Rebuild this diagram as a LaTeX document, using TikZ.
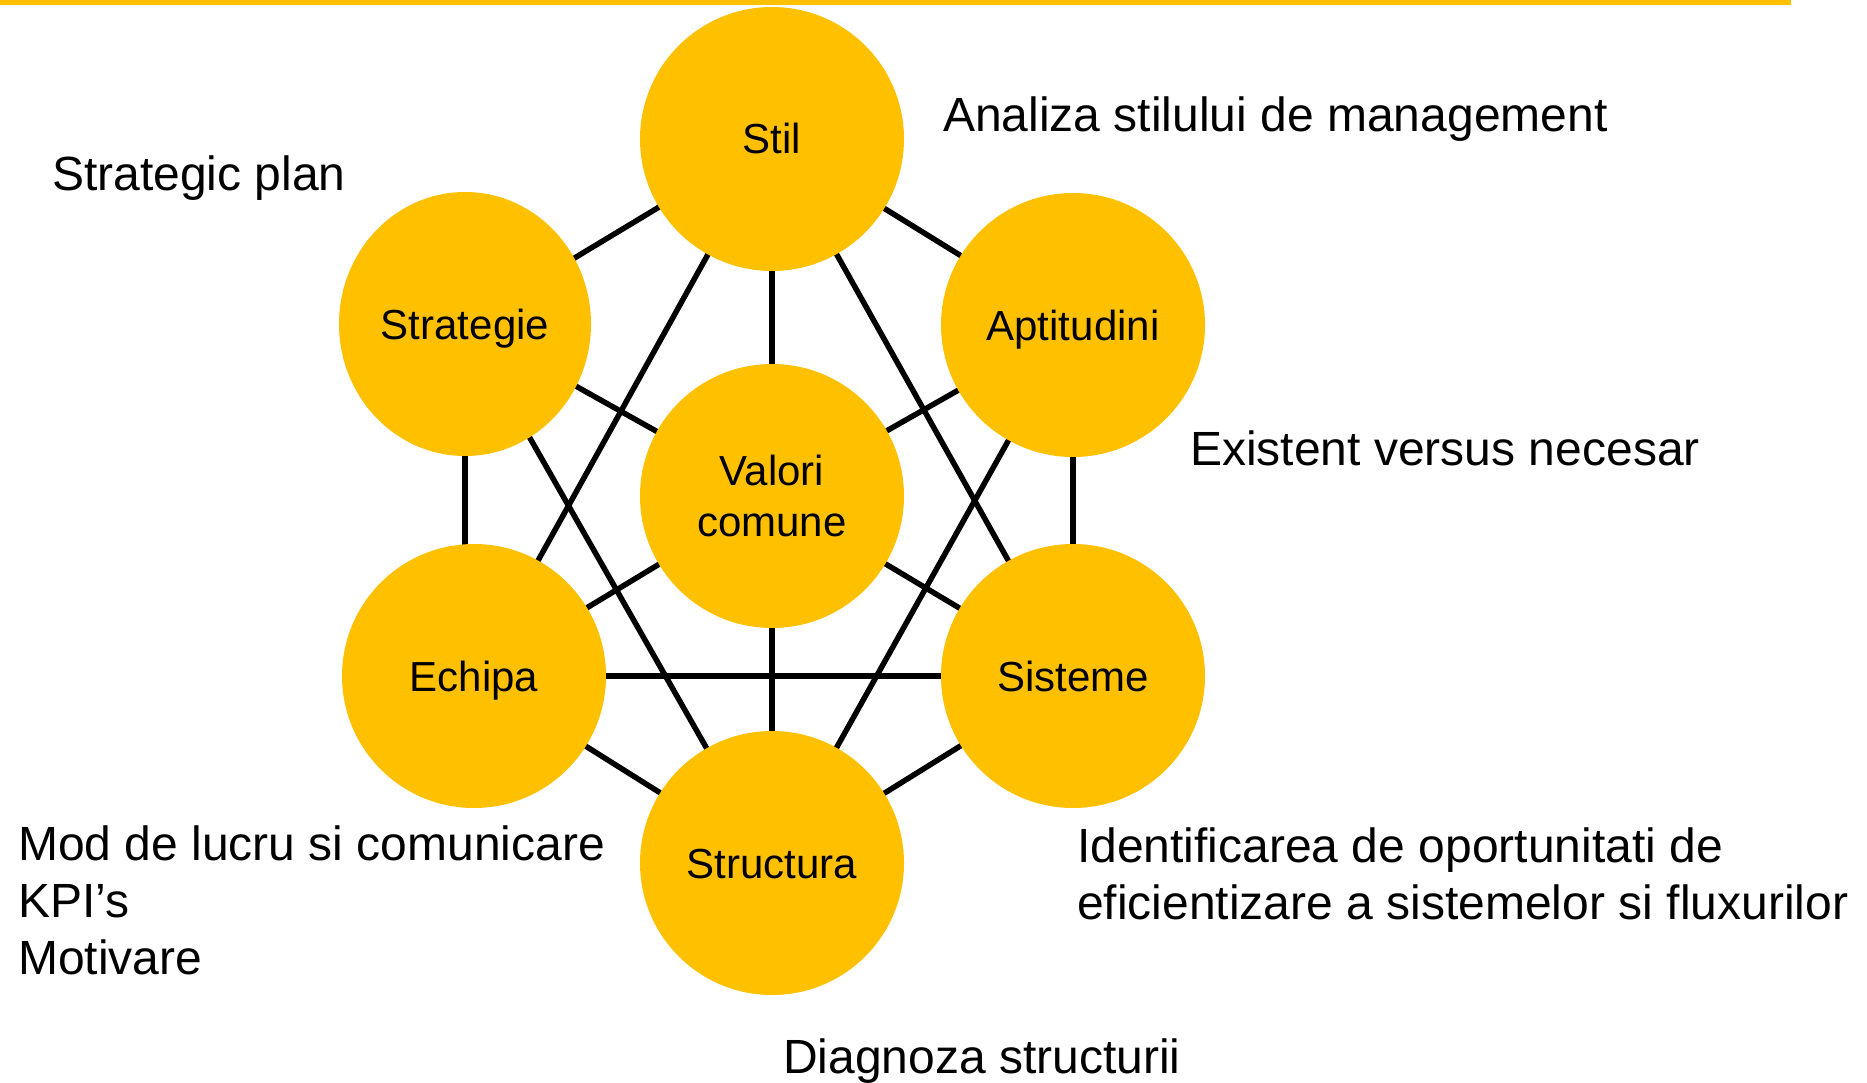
\documentclass[tikz,border=0pt]{standalone}
\usepackage{fontspec}
\setmainfont{Liberation Sans}
\usetikzlibrary{shapes.geometric,backgrounds}
\definecolor{gold}{HTML}{FFC000}
\begin{document}
\begin{tikzpicture}[x=1pt,y=-1pt,
  ball/.style={ellipse, fill=gold, minimum width=264pt, minimum height=264pt, inner sep=0pt, font=\fontsize{42}{51}\selectfont},
  one/.style={text height=30pt, text depth=0pt},
  link/.style={line width=5.5pt, draw=black},
  note/.style={anchor=base west, inner sep=0pt, font=\fontsize{48}{57}\selectfont}]
\useasboundingbox (0,0) rectangle (1867,1083);
\fill[gold] (0,0) rectangle (1791,5);

\node[ball,one] (stil) at (772,139) {Stil};
\node[ball,one,minimum width=252pt] (strat) at (465,324) {Strategie};
\node[ball,one] (apt) at (1073,325) {Aptitudini};
\node[ball,align=center] (val) at (772,496) {Valori\\comune};
\node[ball,one] (ech) at (474,676) {Echipa};
\node[ball,one] (sis) at (1073,676) {Sisteme};
\node[ball,one] (str) at (772,863) {Structura};

\begin{scope}[on background layer]
\draw[link] (stil.center) -- (strat.center);
\draw[link] (stil.center) -- (apt.center);
\draw[link] (stil.center) -- (val.center);
\draw[link] (stil.center) -- (ech.center);
\draw[link] (stil.center) -- (sis.center);
\draw[link] (strat.center) -- (val.center);
\draw[link] (strat.center) -- (strat.center |- ech.center);
\draw[link] (strat.center) -- (str.center);
\draw[link] (apt.center) -- (val.center);
\draw[link] (apt.center) -- (sis.center);
\draw[link] (apt.center) -- (str.center);
\draw[link] (val.center) -- (ech.center);
\draw[link] (val.center) -- (sis.center);
\draw[link] (val.center) -- (str.center);
\draw[link] (ech.center) -- (sis.center);
\draw[link] (ech.center) -- (str.center);
\draw[link] (sis.center) -- (str.center);
\end{scope}

\node[note] (n1) at (52,191) {Strategic plan};
\node[note] (n2) at (943,132) {Analiza stilului de management};
\node[note] (n3) at (1190,465) {Existent versus necesar};
\node[note] (n4) at (1077,862) {\begin{tabular}[t]{@{}l@{}}Identificarea de oportunitati de\\eficientizare a sistemelor si fluxurilor\end{tabular}};
\node[note] (n5) at (18,860) {\begin{tabular}[t]{@{}l@{}}Mod de lucru si comunicare\\KPI’s\\Motivare\end{tabular}};
\node[note] (n6) at (783,1073) {Diagnoza structurii};
\end{tikzpicture}
\end{document}
